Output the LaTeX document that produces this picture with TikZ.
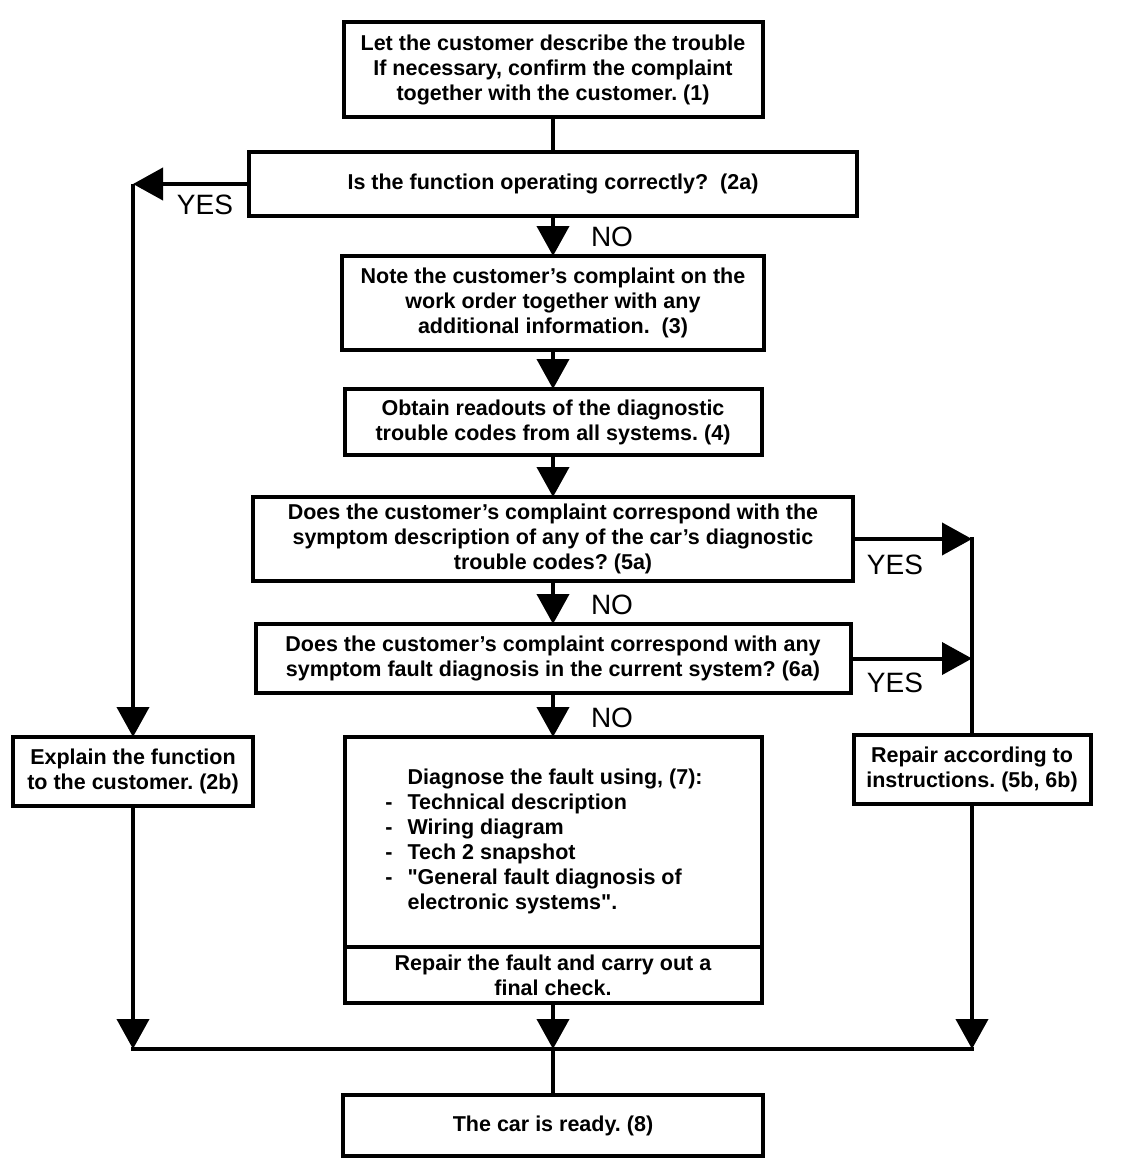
\documentclass[tikz,border=0pt]{standalone}
\usepackage{fontspec}
\setmainfont{Liberation Sans}
\usetikzlibrary{arrows.meta,positioning}
\frenchspacing

\begin{document}
\begin{tikzpicture}
      [
        x=1pt, y=-1pt,
        line width=4pt,
        >={Triangle[width=32pt,length=30pt]},
        boxb/.style={rectangle, draw=black, line width=4pt, align=center, inner sep=0pt, outer sep=0pt, font=\fontsize{21.5}{25}\selectfont\bfseries},
        lbl/.style={font=\fontsize{28}{30}\selectfont}
      ]
      \useasboundingbox (0,0) rectangle (1136,1170);
      % centre column
      \node[boxb, minimum width=419pt, minimum height=95pt] (b1) at (553,69.5) {Let the customer describe the trouble\\If necessary, confirm the complaint\\together with the customer. (1)};
      \node[boxb, minimum width=608pt, minimum height=64pt] (b2a) at (553,184) {Is the function operating correctly?~ (2a)};
      \node[boxb, minimum width=422pt, minimum height=94pt] (b3) at (553,303) {Note the customer's complaint on the\\work order together with any\\additional information.~ (3)};
      \node[boxb, minimum width=417pt, minimum height=66pt] (b4) at (553,422) {Obtain readouts of the diagnostic\\trouble codes from all systems. (4)};
      \node[boxb, minimum width=600pt, minimum height=84pt] (b5a) at (553,539) {Does the customer's complaint correspond with the\\symptom description of any of the car's diagnostic\\trouble codes? (5a)};
      \node[boxb, minimum width=595pt, minimum height=69pt] (b6a) at (553,658.5) {Does the customer's complaint correspond with any\\symptom fault diagnosis in the current system? (6a)};
      \node[boxb, minimum width=417pt, minimum height=210pt] (b7) at (553,842) {\begin{tabular}{@{}l@{\hspace{15pt}}l@{}}
        & Diagnose the fault using, (7):\\
        - & Technical description\\
        - & Wiring diagram\\
        - & Tech 2 snapshot\\
        - & \textquotedbl General fault diagnosis of\\
        & electronic systems\textquotedbl.
      \end{tabular}\hspace{18pt}};
      \node[boxb, minimum width=417pt, minimum height=56pt, anchor=north] (b7r) at (b7.south) {Repair the fault and carry out a\\final check.};
      \node[boxb, minimum width=420pt, minimum height=61pt] (b8) at (553,1125.5) {The car is ready. (8)};
      % side boxes
      \node[boxb, minimum width=240pt, minimum height=69pt] (b2b) at (133,771.5) {Explain the function\\to the customer. (2b)};
      \node[boxb, minimum width=237pt, minimum height=69pt] (b5b) at (972,769.5) {Repair according to\\instructions. (5b, 6b)};
      % labels
      \node[lbl] (yes2) at (205,205) {YES};
      \node[lbl] (no2) at (612,237) {NO};
      \node[lbl] (yes5) at (895,565) {YES};
      \node[lbl] (no5) at (612,605) {NO};
      \node[lbl] (yes6) at (895,683) {YES};
      \node[lbl] (no6) at (612,718) {NO};
      % corner and merge points
      \coordinate (yl) at (b2b.north |- b2a.west);
      \coordinate (yr1) at (b5b.north |- b5a.east);
      \coordinate (yr2) at (b5b.north |- b6a.east);
      \coordinate (ml) at (b2b.south |- 0,1049);
      \coordinate (mc) at (b7r.south |- 0,1049);
      \coordinate (mr) at (b5b.south |- 0,1049);
      \draw (b1.south) -- (b2a.north);
      \draw[->] (b2a.south) -- (b3.north);
      \draw[->] (b3.south) -- (b4.north);
      \draw[->] (b4.south) -- (b5a.north);
      \draw[->] (b5a.south) -- (b6a.north);
      \draw[->] (b6a.south) -- (b7.north);
      \draw[->] (b2a.west) -- (yl);
      \draw[->] (yl) -- (b2b.north);
      \draw[->] (b5a.east) -- (yr1);
      \draw[->] (b6a.east) -- (yr2);
      \draw ([yshift=2pt]yr1) -- (b5b.north);
      \draw[->] (b2b.south) -- (ml);
      \draw[->] (b7r.south) -- (mc);
      \draw[->] (b5b.south) -- (mr);
      \draw ([xshift=-2pt]ml) -- ([xshift=2pt]mr);
      \draw (mc) -- (b8.north);
    \end{tikzpicture}
\end{document}
